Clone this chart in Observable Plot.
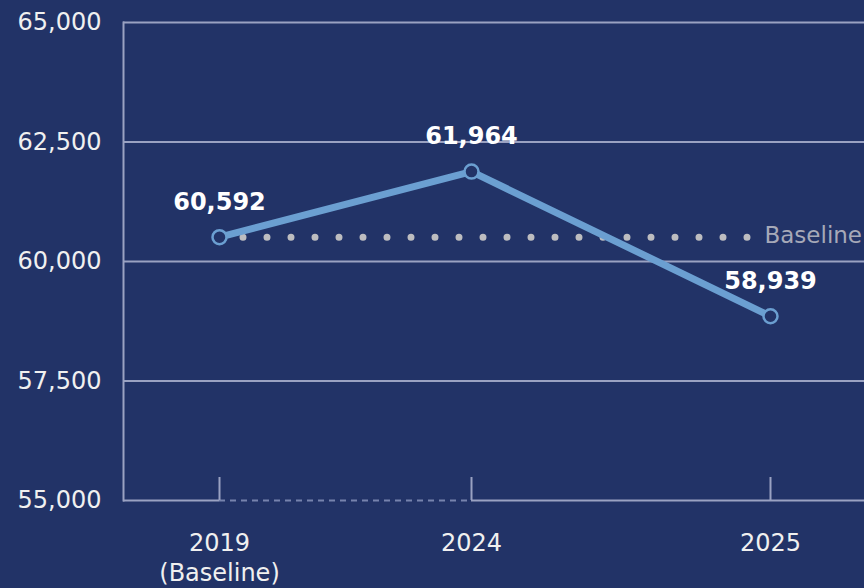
<!DOCTYPE html>
<html>
<head>
<meta charset="utf-8">
<script src="https://cdn.jsdelivr.net/npm/d3@7"></script>
<script src="https://cdn.jsdelivr.net/npm/@observablehq/plot@0.6"></script>
<style>
  html, body { margin: 0; padding: 0; background: #223367; }
  #chart svg { display: block; }
</style>
</head>
<body>
<div id="chart"></div>
<script>
// ---- data ----
const years = [2019, 2024, 2025];
const values = [60592, 61964, 58939];
const yearLabels = ["2019\n(Baseline)", "2024", "2025"];
const yTicks = [55000, 57500, 60000, 62500, 65000];
const baselineValue = 60592;
const baselineLabel = "Baseline";

// ---- styling ----
const bg = "#223367";
const gridColor = "#9aa2c2";
const lineColor = "#6b9fd1";
const fmt = d3.format(",");

const data = years.map((year, i) => ({year, value: values[i]}));
const labelOf = new Map(years.map((y, i) => [y, yearLabels[i]]));

const chart = Plot.plot({
  width: 864,
  height: 588,
  marginLeft: 123,
  marginRight: 0,
  marginTop: 22,
  marginBottom: 88,
  style: {background: bg, fontFamily: "DejaVu Sans", fontSize: "24px", color: "#f0f0f0", overflow: "visible"},
  x: {type: "linear", domain: years, range: [219, 471, 770]},
  y: {domain: [55000, 65000]},
  marks: [
    Plot.gridY(yTicks, {stroke: gridColor, strokeOpacity: 1, strokeWidth: 2}),
    Plot.frame({anchor: "left", stroke: gridColor, strokeWidth: 2}),
    Plot.ruleY([yTicks[0]], {x1: years[0], x2: years[1], stroke: bg, strokeWidth: 4}),
    Plot.ruleY([yTicks[0]], {x1: years[0], x2: years[1], stroke: "#7783ad", strokeWidth: 2, strokeDasharray: "6,5"}),
    Plot.tickX(years, {x: d => d, insetTop: 455, stroke: gridColor, strokeWidth: 2}),
    Plot.ruleY([baselineValue], {x1: years[0], x2: years[years.length - 1], stroke: "#bdbdc0", strokeWidth: 7, strokeDasharray: "0,24", strokeLinecap: "round", dy: 4}),
    Plot.line(data, {x: "year", y: "value", stroke: lineColor, strokeWidth: 7, dy: 4}),
    Plot.dot(data, {x: "year", y: "value", r: 7, fill: bg, stroke: lineColor, strokeWidth: 2.5, dy: 4}),
    Plot.text(data, {x: "year", y: "value", text: d => fmt(d.value), dy: -31, fill: "white", fontWeight: "bold", fontSize: 24}),
    Plot.text([baselineValue], {x: years[years.length - 1], y: d => d, text: [baselineLabel], textAnchor: "start", dx: -6, dy: 2, fill: "#a6a9b8", fontSize: 23}),
    Plot.axisY({ticks: yTicks, tickSize: 0, tickPadding: 22, tickFormat: fmt, color: "#f0f0f0", fontSize: 24, label: null}),
    Plot.axisX({ticks: years, tickSize: 0, tickPadding: 29, tickFormat: d => labelOf.get(d), lineHeight: 1.25, color: "#f0f0f0", fontSize: 24, label: null})
  ]
});
document.getElementById("chart").appendChild(chart);
</script>
</body>
</html>
